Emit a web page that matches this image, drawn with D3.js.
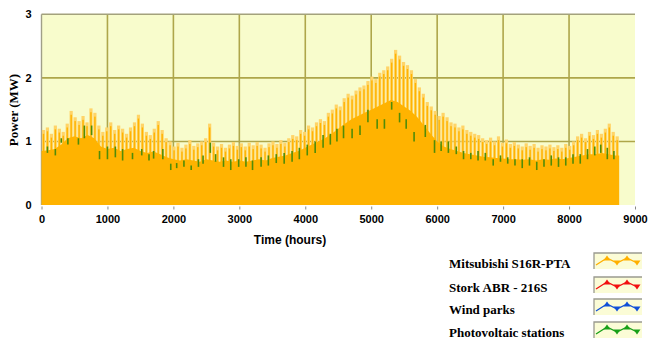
<!DOCTYPE html>
<html>
<head>
<meta charset="utf-8">
<script src="https://cdn.jsdelivr.net/npm/d3@7"></script>
<style>
  body { margin: 0; background: #fff; }
  svg { display: block; }
</style>
</head>
<body>
<svg id="chart" width="650" height="351"></svg>
<script>
// Peak of each spike, one every 60 hours (MW)
const spikeStep = 60;
const spikePeaks = [
    1.18, 1.22, 1.12, 1.25, 1.20, 1.15, 1.28, 1.48, 1.38, 1.32,
    1.40, 1.30, 1.52, 1.45, 1.25, 1.15, 1.22, 1.30, 1.18, 1.25,
    1.20, 1.12, 1.22, 1.30, 1.42, 1.28, 1.15, 1.10, 1.20, 1.32,
    1.18, 1.05, 1.00, 0.92, 0.98, 0.90, 0.95, 1.02, 0.93, 0.97,
    1.00, 1.05, 1.28, 0.98, 0.92, 0.96, 0.90, 0.95, 0.99, 0.93,
    0.97, 0.92, 0.98, 0.94, 0.99, 0.95, 0.90, 0.97, 1.00, 0.96,
    1.02, 0.98, 1.05, 1.10, 1.08, 1.18, 1.15, 1.25, 1.22, 1.30,
    1.35, 1.32, 1.45, 1.50, 1.58, 1.55, 1.68, 1.75, 1.72, 1.80,
    1.85, 1.88, 1.95, 2.02, 1.98, 2.08, 2.12, 2.18, 2.30, 2.44,
    2.35, 2.25, 2.20, 2.12, 1.98, 1.85, 1.75, 1.62, 1.55, 1.48,
    1.40, 1.45, 1.38, 1.30, 1.28, 1.22, 1.25, 1.18, 1.15, 1.12,
    1.10, 1.05, 1.02, 1.06, 1.00, 1.08, 0.98, 1.03, 0.96, 0.99,
    0.95, 0.92, 0.97, 0.93, 0.96, 0.90, 0.94, 0.92, 0.95, 0.91,
    0.94, 0.90, 0.96, 0.93, 1.00, 1.08, 1.12, 1.05, 1.15, 1.10,
    1.18, 1.12, 1.20, 1.28, 1.15, 1.08
];

// Solid (base) level, one value every 100 hours (MW)
const baseStep = 100;
const baseLevel = [
    0.85, 0.86, 0.88, 0.95, 1.05, 1.08, 1.05, 1.10, 1.05, 0.92,
    0.88, 0.90, 0.85, 0.88, 0.90, 0.85, 0.82, 0.84, 0.80, 0.75,
    0.72, 0.70, 0.72, 0.70, 0.68, 0.72, 0.70, 0.68, 0.70, 0.68,
    0.70, 0.68, 0.70, 0.72, 0.70, 0.74, 0.76, 0.78, 0.82, 0.85,
    0.90, 0.95, 1.00, 1.05, 1.12, 1.20, 1.28, 1.35, 1.40, 1.45,
    1.50, 1.55, 1.60, 1.65, 1.62, 1.55, 1.48, 1.38, 1.25, 1.12,
    1.00, 0.92, 0.88, 0.85, 0.82, 0.80, 0.78, 0.76, 0.75, 0.74,
    0.73, 0.72, 0.72, 0.71, 0.72, 0.70, 0.72, 0.71, 0.73, 0.72,
    0.74, 0.76, 0.78, 0.80, 0.80, 0.82, 0.80, 0.78
];

// Photovoltaic segments: [hour, low MW, high MW]
const pvSegments = [
    [90, 0.82, 0.92], [210, 0.78, 0.88], [300, 0.98, 1.05], [400, 0.95, 1.05],
    [560, 0.95, 1.05], [650, 1.05, 1.25], [760, 1.10, 1.25], [880, 0.72, 0.85],
    [1000, 0.72, 0.92], [1120, 0.75, 0.92], [1230, 0.70, 0.88], [1380, 0.72, 0.82],
    [1520, 0.78, 0.88], [1630, 0.70, 0.80], [1700, 0.73, 0.85], [1840, 0.72, 0.88],
    [1960, 0.55, 0.65], [2050, 0.58, 0.66], [2160, 0.60, 0.70], [2270, 0.55, 0.62],
    [2380, 0.60, 0.72], [2450, 0.65, 0.78], [2560, 0.82, 0.98], [2640, 0.68, 0.80],
    [2760, 0.60, 0.75], [2870, 0.55, 0.72], [2990, 0.60, 0.72], [3100, 0.60, 0.75],
    [3200, 0.55, 0.70], [3330, 0.60, 0.75], [3440, 0.62, 0.78], [3560, 0.66, 0.80],
    [3680, 0.65, 0.82], [3800, 0.68, 0.85], [3910, 0.72, 0.90], [4030, 0.78, 0.95],
    [4150, 0.82, 1.00], [4270, 0.90, 1.10], [4380, 0.95, 1.12], [4480, 1.00, 1.20],
    [4580, 1.05, 1.25], [4710, 1.05, 1.20], [4830, 1.10, 1.25], [4950, 1.30, 1.50],
    [5090, 1.20, 1.35], [5200, 1.20, 1.35], [5310, 1.50, 1.62], [5430, 1.30, 1.45],
    [5530, 1.20, 1.35], [5650, 1.00, 1.15], [5820, 1.07, 1.26], [5960, 0.82, 1.02],
    [6060, 0.85, 1.00], [6170, 0.82, 1.00], [6290, 0.80, 0.92], [6400, 0.72, 0.85],
    [6510, 0.72, 0.82], [6620, 0.70, 0.85], [6730, 0.70, 0.82], [6850, 0.62, 0.72],
    [6960, 0.68, 0.78], [7070, 0.65, 0.75], [7180, 0.62, 0.72], [7290, 0.58, 0.72],
    [7400, 0.62, 0.75], [7510, 0.55, 0.68], [7620, 0.60, 0.72], [7730, 0.62, 0.78],
    [7840, 0.60, 0.75], [7950, 0.62, 0.75], [8060, 0.65, 0.80], [8170, 0.65, 0.80],
    [8280, 0.72, 0.88], [8390, 0.78, 0.92], [8480, 0.82, 0.95], [8580, 0.72, 0.90],
    [8680, 0.72, 0.85]
];

const xTicks = [0, 1000, 2000, 3000, 4000, 5000, 6000, 7000, 8000, 9000];
const yTicks = [0, 1, 2, 3];
const lastHour = 8760;

const legendNames = ["Mitsubishi S16R-PTA", "Stork ABR - 216S", "Wind parks", "Photovoltaic stations"];
const legendColors = ["#ffb000", "#f21010", "#1050d8", "#18a018"];

const svg = d3.select("#chart");

// plot box
const plotLeft = 41.5, plotRight = 635, plotTop = 14.3, plotBottom = 205;

const x = d3.scaleLinear().domain([0, 9000]).range([plotLeft, plotRight]);
const y = d3.scaleLinear().domain([0, 3]).range([plotBottom, plotTop]);

// background
svg.append("rect")
    .attr("x", plotLeft).attr("y", plotTop)
    .attr("width", plotRight - plotLeft).attr("height", plotBottom - plotTop)
    .attr("fill", "#f8fccc");

// grid
svg.append("g").selectAll("line")
    .data(xTicks.filter(d => d > 0 && d < 9000))
    .enter().append("line")
    .attr("x1", d => x(d)).attr("x2", d => x(d))
    .attr("y1", plotTop).attr("y2", plotBottom)
    .attr("stroke", "#aea64a").attr("stroke-width", 1.6);

svg.append("g").selectAll("line")
    .data([1, 2])
    .enter().append("line")
    .attr("x1", plotLeft).attr("x2", plotRight)
    .attr("y1", d => y(d)).attr("y2", d => y(d))
    .attr("stroke", "#aea64a").attr("stroke-width", 1.6);

// border top and left
svg.append("line")
    .attr("x1", plotLeft).attr("x2", plotRight).attr("y1", plotTop).attr("y2", plotTop)
    .attr("stroke", "#a3a27c").attr("stroke-width", 1.6);
svg.append("line")
    .attr("x1", plotLeft).attr("x2", plotLeft).attr("y1", plotTop).attr("y2", plotBottom)
    .attr("stroke", "#a09f88").attr("stroke-width", 1.4);

// spikes
const spikes = spikePeaks.map((v, i) => ({ h: i * spikeStep + 30, v: v }));

svg.append("g").selectAll("rect")
    .data(spikes)
    .enter().append("rect")
    .attr("x", d => x(d.h) - 1.6)
    .attr("width", 3.2)
    .attr("y", d => y(d.v))
    .attr("height", d => plotBottom - y(d.v))
    .attr("fill", "#ffd468");

svg.append("g").selectAll("rect")
    .data(spikes)
    .enter().append("rect")
    .attr("x", d => x(d.h) - 0.7)
    .attr("width", 1.4)
    .attr("y", d => y(d.v - 0.06))
    .attr("height", d => plotBottom - y(d.v - 0.06))
    .attr("fill", "#ffb400");

// solid area
const baseData = baseLevel.map((v, i) => ({ h: i * baseStep, v: v }));
baseData.push({ h: lastHour, v: baseLevel[baseLevel.length - 1] });

const area = d3.area()
    .x(d => x(d.h))
    .y0(plotBottom)
    .y1(d => y(d.v));

svg.append("path")
    .datum(baseData)
    .attr("d", area)
    .attr("fill", "#ffb300");

// photovoltaic segments
svg.append("g").selectAll("line")
    .data(pvSegments)
    .enter().append("line")
    .attr("x1", d => x(d[0])).attr("x2", d => x(d[0]))
    .attr("y1", d => y(d[1])).attr("y2", d => y(d[2]))
    .attr("stroke", "#4f8c08").attr("stroke-width", 1.6);

// x axis ticks + labels
const xAxis = d3.axisBottom(x).tickValues(xTicks).tickFormat(d3.format("d"))
    .tickSize(3).tickPadding(6);
const gx = svg.append("g")
    .attr("transform", "translate(0," + (plotBottom + 1.5) + ")")
    .call(xAxis);
gx.select(".domain").remove();
gx.selectAll(".tick line").attr("stroke", "#888");
gx.selectAll(".tick text")
    .attr("fill", "#000")
    .style("font-family", "'Liberation Sans', Arial, sans-serif")
    .style("font-size", "11px")
    .style("font-weight", "bold");

// y axis labels
const yAxis = d3.axisLeft(y).tickValues(yTicks).tickFormat(d3.format("d"))
    .tickSize(0).tickPadding(10);
const gy = svg.append("g")
    .attr("transform", "translate(" + plotLeft + ",0)")
    .call(yAxis);
gy.select(".domain").remove();
gy.selectAll(".tick text")
    .attr("fill", "#000")
    .style("font-family", "'Liberation Sans', Arial, sans-serif")
    .style("font-size", "11px")
    .style("font-weight", "bold");

// axis titles
svg.append("text")
    .attr("x", 290).attr("y", 244)
    .attr("text-anchor", "middle")
    .style("font-family", "'Liberation Sans', Arial, sans-serif")
    .style("font-size", "12px")
    .style("font-weight", "bold")
    .text("Time (hours)");

svg.append("text")
    .attr("transform", "translate(18," + 110 + ") rotate(-90)")
    .attr("text-anchor", "middle")
    .style("font-family", "'Liberation Serif', 'Times New Roman', serif")
    .style("font-size", "13px")
    .style("font-weight", "bold")
    .text("Power (MW)");

// legend
const legendTop = [253, 277, 299, 322];
const legend = svg.append("g");

legendNames.forEach(function (name, i) {
    const ly = legendTop[i];
    const g = legend.append("g");

    g.append("text")
        .attr("x", 449).attr("y", ly + 14.5)
        .style("font-family", "'Liberation Serif', 'Times New Roman', serif")
        .style("font-size", "13px")
        .style("font-weight", "bold")
        .text(name);

    g.append("rect")
        .attr("x", 594).attr("y", ly)
        .attr("width", 48).attr("height", 16)
        .attr("fill", "#fbfcd6");
    g.append("path")
        .attr("d", "M594," + (ly + 16) + "V" + ly + "H642")
        .attr("fill", "none")
        .attr("stroke", "#9a9a90").attr("stroke-width", 1.3);

    const pts = [[596, ly + 12], [607, ly + 5], [617, ly + 10], [627, ly + 5], [637, ly + 10]];
    g.append("path")
        .attr("d", d3.line()(pts))
        .attr("fill", "none")
        .attr("stroke", legendColors[i]).attr("stroke-width", 1.3);

    pts.slice(1).forEach(function (p, k) {
        const up = k % 2 === 0;
        const tri = up
            ? [[p[0] - 3.5, p[1] + 2.5], [p[0] + 3.5, p[1] + 2.5], [p[0], p[1] - 2.5]]
            : [[p[0] - 3.5, p[1] - 2.5], [p[0] + 3.5, p[1] - 2.5], [p[0], p[1] + 2.5]];
        g.append("path")
            .attr("d", d3.line()(tri) + "Z")
            .attr("fill", legendColors[i]);
    });
});
</script>
</body>
</html>
